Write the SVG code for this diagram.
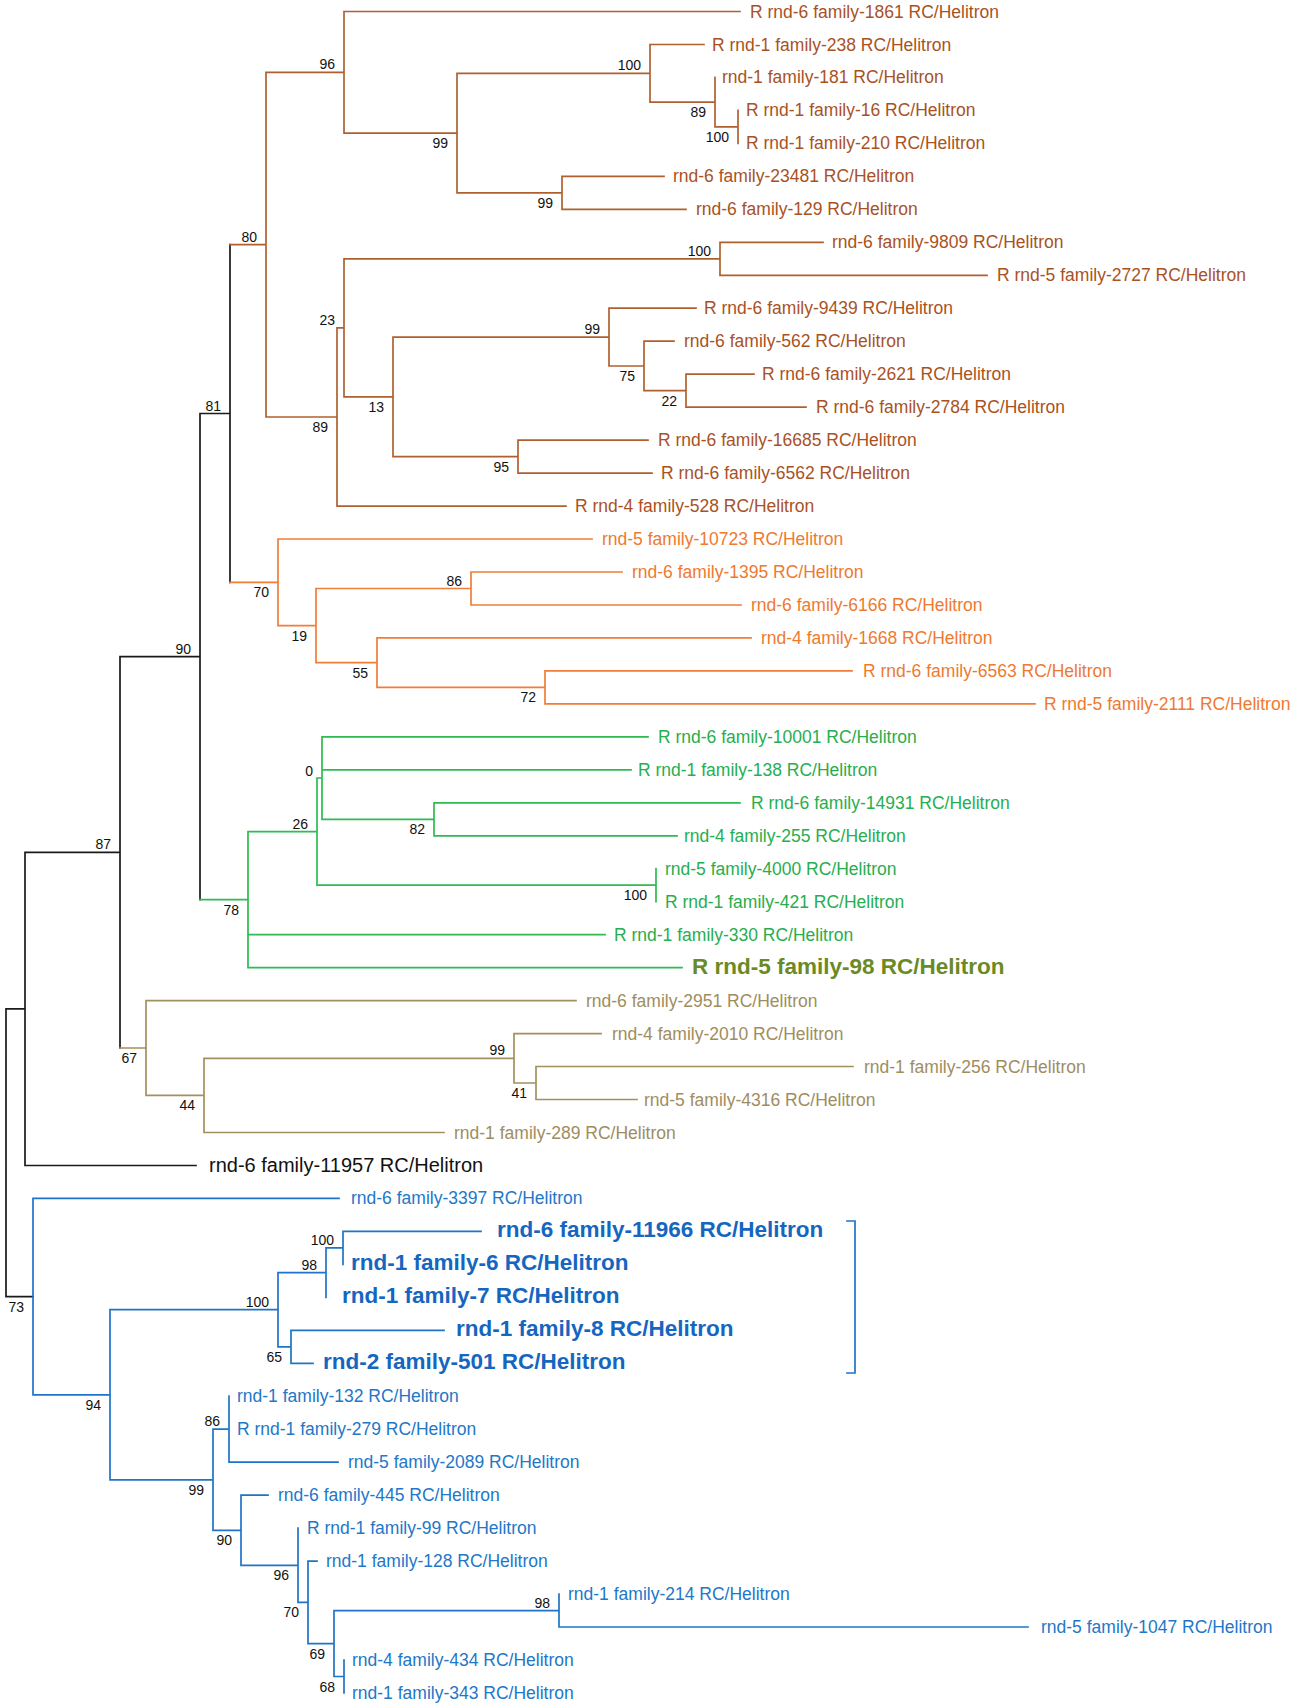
<svg xmlns="http://www.w3.org/2000/svg" width="1299" height="1706" viewBox="0 0 1299 1706">
<style>
.e{fill:none;stroke-width:1.7;stroke-linecap:square}
.k{stroke:#1a1a1a}.br{stroke:#B0602F}.or{stroke:#F07D38}.gr{stroke:#2DBB52}.kh{stroke:#A2905E}.bl{stroke:#1E74C8}
text{font-family:"Liberation Sans",Arial,sans-serif}
.l{font-size:17.5px}
.b{font-size:14px;fill:#111;text-anchor:end}
.tbr{fill:#A9521F}.tor{fill:#EE7A30}.tgr{fill:#27AE4E}.tol{fill:#6B8A25;font-size:22.5px;font-weight:bold}
.tkh{fill:#A08D5E}.tbl{fill:#2277C8}.tbb{fill:#1566C0;font-size:22.5px;font-weight:bold}.tk{fill:#111;font-size:20px}
</style>
<rect width="1299" height="1706" fill="#fff"/>
<g id="connectors">
<path class="e k" d="M6 1008.9V1296.6M6 1008.9H25M6 1296.6H33M25 852.3V1165.5M25 852.3H120M25 1165.5H196M120 656.6V1048M120 656.6H200M200 413.5V899.6M200 413.5H230M230 244.7V582.3"/>
<path class="e br" d="M230 244.7H266M266 72.3V417M266 72.3H344M344 11.5V133.1M344 11.5H740M344 133.1H457M457 73.3V192.9M457 73.3H650M650 44.5V102.2M650 44.5H704M650 102.2H715M715 77.4V126.9M715 126.9H738M738 110.4V143.4M457 192.9H562M562 176.4V209.3M562 176.4H664M562 209.3H686M266 417H337M337 327.8V506.1M337 327.8H344M344 258.8V396.9M344 258.8H720M720 242.3V275.3M720 242.3H823M720 275.3H987M344 396.9H393M393 337.1V456.6M393 337.1H609M609 308.2V366M609 308.2H696M609 366H644M644 341.2V390.7M644 341.2H674M644 390.7H686M686 374.2V407.1M686 374.2H754M686 407.1H806M393 456.6H518M518 440.1V473.1M518 440.1H648M518 473.1H652M337 506.1H566"/>
<path class="e or" d="M230 582.3H278M278 539V625.6M278 539H592M278 625.6H316M316 588.5V662.7M316 588.5H471M471 572V605M471 572H622M471 605H741M316 662.7H377M377 637.9V687.4M377 637.9H751M377 687.4H545M545 670.9V703.9M545 670.9H852M545 703.9H1035"/>
<path class="e gr" d="M200 899.6H248M248 831.6V967.6M248 831.6H317M317 778V885.2M317 778H322M322 736.8V819.3M322 736.8H648M322 769.8H631M322 819.3H434M434 802.8V835.8M434 802.8H740M434 835.8H677M317 885.2H656M656 868.7V901.7M248 934.7H605M248 967.6H682"/>
<path class="e kh" d="M120 1048H146M146 1000.6V1095.4M146 1000.6H576M146 1095.4H204M204 1058.3V1132.5M204 1058.3H514M514 1033.6V1083M514 1033.6H601M514 1083H536M536 1066.5V1099.5M536 1066.5H853M536 1099.5H637M204 1132.5H444"/>
<path class="e bl" d="M33 1198.4V1394.8M33 1198.4H339M33 1394.8H110M110 1309.7V1479.8M110 1309.7H278M278 1272.6V1346.8M278 1272.6H326M326 1247.9V1297.3M326 1247.9H343M343 1231.4V1264.4M343 1231.4H481M278 1346.8H291M291 1330.3V1363.3M291 1330.3H444M291 1363.3H313M110 1479.8H213M213 1429.2V1530.3M213 1429.2H229M229 1396.2V1462.2M229 1462.2H338M213 1530.3H241M241 1495.2V1565.3M241 1495.2H268M241 1565.3H298M298 1528.1V1602.4M298 1602.4H308M308 1561.1V1643.6M308 1561.1H317M308 1643.6H334M334 1610.6V1676.5M334 1610.6H559M559 1594.1V1627M559 1627H1028M334 1676.5H344M344 1660V1693"/>
<path class="e bl" d="M847 1221H855V1373H847"/>
</g>
<g id="leaves" class="l">
<g id="leaf-1861"><text class="l tbr" x="750" y="17.5">R rnd-6 family-1861 RC/Helitron</text></g>
<g id="leaf-238"><text class="l tbr" x="712" y="50.5">R rnd-1 family-238 RC/Helitron</text></g>
<g id="leaf-181"><text class="l tbr" x="722" y="83.4">rnd-1 family-181 RC/Helitron</text></g>
<g id="leaf-16"><text class="l tbr" x="746" y="116.4">R rnd-1 family-16 RC/Helitron</text></g>
<g id="leaf-210"><text class="l tbr" x="746" y="149.4">R rnd-1 family-210 RC/Helitron</text></g>
<g id="leaf-23481"><text class="l tbr" x="673" y="182.4">rnd-6 family-23481 RC/Helitron</text></g>
<g id="leaf-129"><text class="l tbr" x="696" y="215.3">rnd-6 family-129 RC/Helitron</text></g>
<g id="leaf-9809"><text class="l tbr" x="832" y="248.3">rnd-6 family-9809 RC/Helitron</text></g>
<g id="leaf-2727"><text class="l tbr" x="997" y="281.3">R rnd-5 family-2727 RC/Helitron</text></g>
<g id="leaf-9439"><text class="l tbr" x="704" y="314.2">R rnd-6 family-9439 RC/Helitron</text></g>
<g id="leaf-562"><text class="l tbr" x="684" y="347.2">rnd-6 family-562 RC/Helitron</text></g>
<g id="leaf-2621"><text class="l tbr" x="762" y="380.2">R rnd-6 family-2621 RC/Helitron</text></g>
<g id="leaf-2784"><text class="l tbr" x="816" y="413.1">R rnd-6 family-2784 RC/Helitron</text></g>
<g id="leaf-16685"><text class="l tbr" x="658" y="446.1">R rnd-6 family-16685 RC/Helitron</text></g>
<g id="leaf-6562"><text class="l tbr" x="661" y="479.1">R rnd-6 family-6562 RC/Helitron</text></g>
<g id="leaf-528"><text class="l tbr" x="575" y="512.1">R rnd-4 family-528 RC/Helitron</text></g>
<g id="leaf-10723"><text class="l tor" x="602" y="545">rnd-5 family-10723 RC/Helitron</text></g>
<g id="leaf-1395"><text class="l tor" x="632" y="578">rnd-6 family-1395 RC/Helitron</text></g>
<g id="leaf-6166"><text class="l tor" x="751" y="611">rnd-6 family-6166 RC/Helitron</text></g>
<g id="leaf-1668"><text class="l tor" x="761" y="643.9">rnd-4 family-1668 RC/Helitron</text></g>
<g id="leaf-6563"><text class="l tor" x="863" y="676.9">R rnd-6 family-6563 RC/Helitron</text></g>
<g id="leaf-2111"><text class="l tor" x="1044" y="709.9">R rnd-5 family-2111 RC/Helitron</text></g>
<g id="leaf-10001"><text class="l tgr" x="658" y="742.8">R rnd-6 family-10001 RC/Helitron</text></g>
<g id="leaf-138"><text class="l tgr" x="638" y="775.8">R rnd-1 family-138 RC/Helitron</text></g>
<g id="leaf-14931"><text class="l tgr" x="751" y="808.8">R rnd-6 family-14931 RC/Helitron</text></g>
<g id="leaf-255"><text class="l tgr" x="684" y="841.8">rnd-4 family-255 RC/Helitron</text></g>
<g id="leaf-4000"><text class="l tgr" x="665" y="874.7">rnd-5 family-4000 RC/Helitron</text></g>
<g id="leaf-421"><text class="l tgr" x="665" y="907.7">R rnd-1 family-421 RC/Helitron</text></g>
<g id="leaf-330"><text class="l tgr" x="614" y="940.7">R rnd-1 family-330 RC/Helitron</text></g>
<g id="leaf-98"><text class="tol" x="692" y="973.6">R rnd-5 family-98 RC/Helitron</text></g>
<g id="leaf-2951"><text class="l tkh" x="586" y="1006.6">rnd-6 family-2951 RC/Helitron</text></g>
<g id="leaf-2010"><text class="l tkh" x="612" y="1039.6">rnd-4 family-2010 RC/Helitron</text></g>
<g id="leaf-256"><text class="l tkh" x="864" y="1072.5">rnd-1 family-256 RC/Helitron</text></g>
<g id="leaf-4316"><text class="l tkh" x="644" y="1105.5">rnd-5 family-4316 RC/Helitron</text></g>
<g id="leaf-289"><text class="l tkh" x="454" y="1138.5">rnd-1 family-289 RC/Helitron</text></g>
<g id="leaf-11957"><text class="tk" x="209" y="1171.5">rnd-6 family-11957 RC/Helitron</text></g>
<g id="leaf-3397"><text class="l tbl" x="351" y="1204.4">rnd-6 family-3397 RC/Helitron</text></g>
<g id="leaf-11966"><text class="tbb" x="497" y="1237.4">rnd-6 family-11966 RC/Helitron</text></g>
<g id="leaf-6"><text class="tbb" x="351" y="1270.4">rnd-1 family-6 RC/Helitron</text></g>
<g id="leaf-7"><text class="tbb" x="342" y="1303.3">rnd-1 family-7 RC/Helitron</text></g>
<g id="leaf-8"><text class="tbb" x="456" y="1336.3">rnd-1 family-8 RC/Helitron</text></g>
<g id="leaf-501"><text class="tbb" x="323" y="1369.3">rnd-2 family-501 RC/Helitron</text></g>
<g id="leaf-132"><text class="l tbl" x="237" y="1402.2">rnd-1 family-132 RC/Helitron</text></g>
<g id="leaf-279"><text class="l tbl" x="237" y="1435.2">R rnd-1 family-279 RC/Helitron</text></g>
<g id="leaf-2089"><text class="l tbl" x="348" y="1468.2">rnd-5 family-2089 RC/Helitron</text></g>
<g id="leaf-445"><text class="l tbl" x="278" y="1501.2">rnd-6 family-445 RC/Helitron</text></g>
<g id="leaf-99"><text class="l tbl" x="307" y="1534.1">R rnd-1 family-99 RC/Helitron</text></g>
<g id="leaf-128"><text class="l tbl" x="326" y="1567.1">rnd-1 family-128 RC/Helitron</text></g>
<g id="leaf-214"><text class="l tbl" x="568" y="1600.1">rnd-1 family-214 RC/Helitron</text></g>
<g id="leaf-1047"><text class="l tbl" x="1041" y="1633">rnd-5 family-1047 RC/Helitron</text></g>
<g id="leaf-434"><text class="l tbl" x="352" y="1666">rnd-4 family-434 RC/Helitron</text></g>
<g id="leaf-343"><text class="l tbl" x="352" y="1699">rnd-1 family-343 RC/Helitron</text></g>
</g>
<g id="support-values">
<g id="n96"><text class="b" x="335" y="69.3">96</text></g>
<g id="n99a"><text class="b" x="448" y="148.1">99</text></g>
<g id="n100a"><text class="b" x="641" y="70.3">100</text></g>
<g id="n89a"><text class="b" x="706" y="117.2">89</text></g>
<g id="n100b"><text class="b" x="729" y="141.9">100</text></g>
<g id="n99b"><text class="b" x="553" y="207.9">99</text></g>
<g id="n80"><text class="b" x="257" y="241.7">80</text></g>
<g id="n100c"><text class="b" x="711" y="255.8">100</text></g>
<g id="n23"><text class="b" x="335" y="324.8">23</text></g>
<g id="n99c"><text class="b" x="600" y="334.1">99</text></g>
<g id="n75"><text class="b" x="635" y="381">75</text></g>
<g id="n22"><text class="b" x="677" y="405.7">22</text></g>
<g id="n13"><text class="b" x="384" y="411.9">13</text></g>
<g id="n95"><text class="b" x="509" y="471.6">95</text></g>
<g id="n89b"><text class="b" x="328" y="432">89</text></g>
<g id="n81"><text class="b" x="221" y="410.5">81</text></g>
<g id="n70a"><text class="b" x="269" y="597.3">70</text></g>
<g id="n86a"><text class="b" x="462" y="585.5">86</text></g>
<g id="n19"><text class="b" x="307" y="640.6">19</text></g>
<g id="n55"><text class="b" x="368" y="677.7">55</text></g>
<g id="n72"><text class="b" x="536" y="702.4">72</text></g>
<g id="n90a"><text class="b" x="191" y="653.6">90</text></g>
<g id="n0"><text class="b" x="313" y="776">0</text></g>
<g id="n26"><text class="b" x="308" y="828.6">26</text></g>
<g id="n82"><text class="b" x="425" y="834.3">82</text></g>
<g id="n100d"><text class="b" x="647" y="900.2">100</text></g>
<g id="n78"><text class="b" x="239" y="914.6">78</text></g>
<g id="n87"><text class="b" x="111" y="849.3">87</text></g>
<g id="n67"><text class="b" x="137" y="1063">67</text></g>
<g id="n44"><text class="b" x="195" y="1110.4">44</text></g>
<g id="n99d"><text class="b" x="505" y="1055.3">99</text></g>
<g id="n41"><text class="b" x="527" y="1098">41</text></g>
<g id="n73"><text class="b" x="24" y="1311.6">73</text></g>
<g id="n100f"><text class="b" x="334" y="1244.9">100</text></g>
<g id="n98a"><text class="b" x="317" y="1269.6">98</text></g>
<g id="n100e"><text class="b" x="269" y="1306.7">100</text></g>
<g id="n65"><text class="b" x="282" y="1361.8">65</text></g>
<g id="n94"><text class="b" x="101" y="1409.8">94</text></g>
<g id="n86b"><text class="b" x="220" y="1426.2">86</text></g>
<g id="n99e"><text class="b" x="204" y="1494.8">99</text></g>
<g id="n90b"><text class="b" x="232" y="1545.3">90</text></g>
<g id="n96b"><text class="b" x="289" y="1580.3">96</text></g>
<g id="n70b"><text class="b" x="299" y="1617.4">70</text></g>
<g id="n69"><text class="b" x="325" y="1658.6">69</text></g>
<g id="n68"><text class="b" x="335" y="1691.5">68</text></g>
<g id="n98b"><text class="b" x="550" y="1607.6">98</text></g>
</g>
</svg>
